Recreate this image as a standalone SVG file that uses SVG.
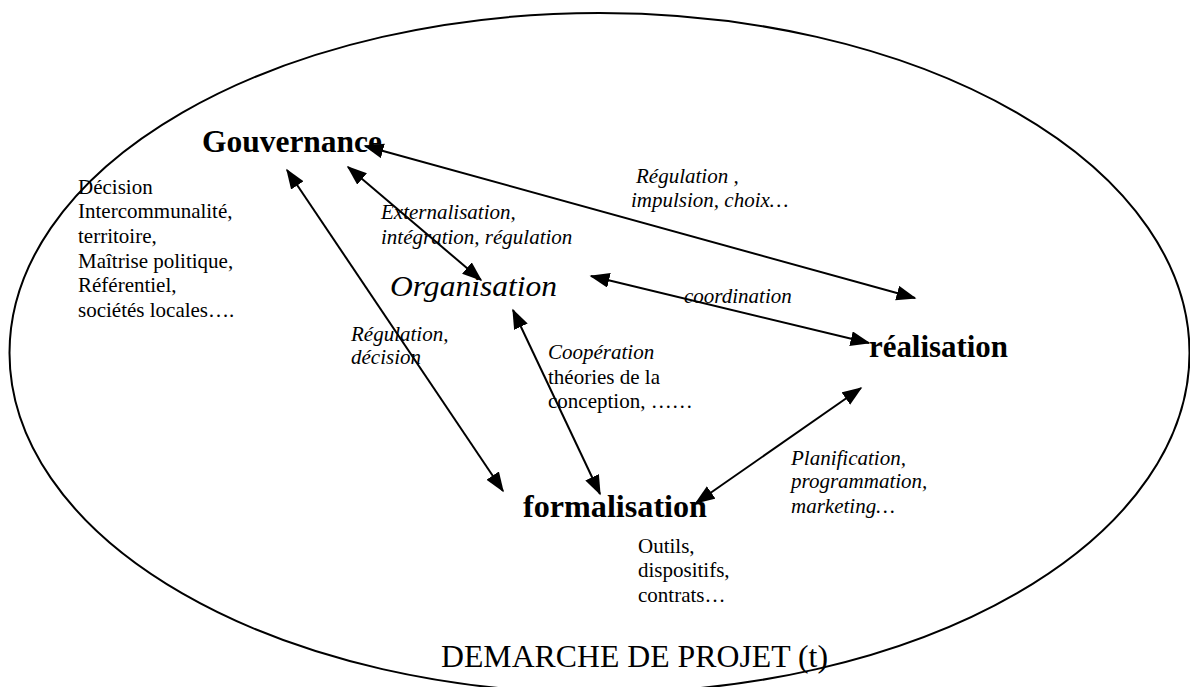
<svg xmlns="http://www.w3.org/2000/svg" width="1190" height="687" viewBox="0 0 1190 687">
<style>
text{font-family:"Liberation Serif","Times New Roman",serif;fill:#000}
.b{font-weight:bold;font-size:32px}
.r{font-size:21px}
.i{font-size:21px;font-style:italic}
.conn line{stroke:#000;stroke-width:2;fill:none}
</style>
<defs>
<marker id="ah" markerUnits="userSpaceOnUse" markerWidth="22" markerHeight="16" refX="18.5" refY="7.5" orient="auto-start-reverse" viewBox="0 0 22 16">
<path d="M0,0 L20,7.5 L0,15 z" fill="#000"/>
</marker>
</defs>
<rect width="1190" height="687" fill="#fff"/>
<ellipse id="demarche" cx="599.5" cy="353" rx="590" ry="340" fill="none" stroke="#000" stroke-width="2"/>
<g class="conn" id="connectors">
<line x1="365" y1="146" x2="915" y2="298" marker-start="url(#ah)" marker-end="url(#ah)"/>
<line x1="348" y1="167" x2="481" y2="280" marker-start="url(#ah)" marker-end="url(#ah)"/>
<line x1="287" y1="170" x2="503" y2="491" marker-start="url(#ah)" marker-end="url(#ah)"/>
<line x1="513" y1="310" x2="600" y2="494" marker-start="url(#ah)" marker-end="url(#ah)"/>
<line x1="591" y1="276" x2="869" y2="343" marker-start="url(#ah)" marker-end="url(#ah)"/>
<line x1="861" y1="388" x2="696" y2="503" marker-start="url(#ah)" marker-end="url(#ah)"/>
</g>
<g id="gouvernance">
<text class="b" x="202" y="152" textLength="180" lengthAdjust="spacingAndGlyphs">Gouvernance</text>
<text class="r" x="78" y="194">Décision</text>
<text class="r" x="78" y="218">Intercommunalité,</text>
<text class="r" x="78" y="243">territoire,</text>
<text class="r" x="78" y="268">Maîtrise politique,</text>
<text class="r" x="78" y="292">Référentiel,</text>
<text class="r" x="78" y="317">sociétés locales….</text>
</g>
<g id="organisation">
<text x="390" y="296" style="font-size:30px;font-style:italic" textLength="167" lengthAdjust="spacingAndGlyphs">Organisation</text>
</g>
<g id="realisation">
<text class="b" x="869" y="357" textLength="139" lengthAdjust="spacingAndGlyphs">réalisation</text>
</g>
<g id="formalisation">
<text class="b" x="523" y="517" textLength="184" lengthAdjust="spacingAndGlyphs">formalisation</text>
<text class="r" x="638" y="553">Outils,</text>
<text class="r" x="638" y="577">dispositifs,</text>
<text class="r" x="638" y="602">contrats…</text>
</g>
<g id="labels">
<text class="i" x="381" y="219">Externalisation,</text>
<text class="i" x="381" y="244">intégration, régulation</text>
<text class="i" x="636" y="183">Régulation ,</text>
<text class="i" x="631" y="207">impulsion, choix…</text>
<text class="i" x="684" y="303">coordination</text>
<text class="i" x="351" y="341">Régulation,</text>
<text class="i" x="351" y="364">décision</text>
<text class="i" x="548" y="359">Coopération</text>
<text class="r" x="548" y="384">théories de la</text>
<text class="r" x="548" y="408">conception, ……</text>
<text class="i" x="791" y="465">Planification,</text>
<text class="i" x="791" y="488">programmation,</text>
<text class="i" x="791" y="513">marketing…</text>
</g>
<g id="title">
<text x="441" y="667" style="font-size:32px" textLength="387" lengthAdjust="spacingAndGlyphs">DEMARCHE DE PROJET (t)</text>
</g>
</svg>
